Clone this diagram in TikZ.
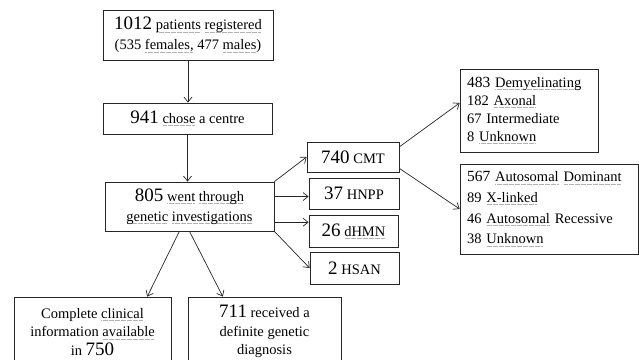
\documentclass[tikz,border=0pt]{standalone}
\usepackage{fontspec}
\setmainfont{Liberation Serif}
\usetikzlibrary{arrows.meta,calc}
\newcommand\sq[1]{\leavevmode\setbox0\hbox{#1}\rlap{\raisebox{-2.4pt}{\color{gray!60}\leaders\hbox to 1.2pt{\hss\rule{0.6pt}{0.5pt}\hss}\hskip\wd0\relax}}\box0\relax}
\newcommand\numb[1]{{\fontsize{19}{20}\selectfont #1}}
\begin{document}
\begin{tikzpicture}[x=1pt,y=-1pt,
  box/.style={draw=black!85,line width=0.8pt,inner sep=0pt,align=center,font=\fontsize{14.5}{20}\selectfont},
  lbox/.style={draw=black!85,line width=0.8pt,inner xsep=7pt,inner ysep=0pt,align=left},
  arr/.style={draw=black!85,line width=0.7pt,-{Straight Barb[length=5pt,width=8pt]}}]
\useasboundingbox (0,0) rectangle (639,359);
\clip (0,0) rectangle (639,359);
\fill[white] (0,0) rectangle (639,359);

\node[box,minimum width=170pt,minimum height=50pt] (b1) at (188,35)
  {\numb{1012} \sq{patients} \sq{registered}\\(535 \sq{females,} 477 \sq{males})};
\node[box,minimum width=169pt,minimum height=31pt] (b2) at (187.5,118.5)
  {\numb{941} \sq{chose} a centre};
\node[box,minimum width=169pt,minimum height=49pt] (b3) at (189.5,206.5)
  {\numb{805} \sq{went} \sq{through}\\\sq{genetic} \sq{investigations}};

\node[box,minimum width=92pt,minimum height=30pt] (cmt) at (353,157) {\numb{740} CMT};
\node[box,minimum width=90pt,minimum height=31pt] (hnpp) at (354,193.5) {\numb{37} HNPP};
\node[box,minimum width=89pt,minimum height=32pt] (dhmn) at (353.5,231) {\numb{26} \sq{dHMN}};
\node[box,minimum width=89pt,minimum height=32pt] (hsan) at (354.5,268) {\numb{2} HSAN};

\node[lbox,text width=124pt,minimum height=83pt,font=\fontsize{14.5}{18}\selectfont] (tr) at (529,110.5)
  {{\fontsize{15.5}{18}\selectfont 483} \sq{Demyelinating}\\182 \sq{Axonal}\\67 Intermediate\\8 \sq{Unknown}};
\node[lbox,text width=164pt,minimum height=90pt,font=\fontsize{14.5}{20.7}\selectfont] (br) at (549,209)
  {{\fontsize{15.5}{20.7}\selectfont 567} \sq{Autosomal} \sq{Dominant}\\89 \sq{X-linked}\\46 \sq{Autosomal} Recessive\\38 \sq{Unknown}};

\node[box,minimum width=157pt,minimum height=70pt,font=\fontsize{14.5}{18.5}\selectfont] (bl) at (92.5,332)
  {Complete \sq{clinical}\\information \sq{available}\\in \numb{750}};
\node[box,minimum width=153pt,minimum height=69pt,font=\fontsize{14.5}{18.5}\selectfont] (bm) at (264.5,331.5)
  {\numb{711} received a\\definite genetic\\diagnosis};

\draw[arr] (b1.south) -- (b1.south |- b2.north);
\draw[arr] (b2.south) -- (b2.south |- b3.north);

\draw[arr] (b3.north east) -- (cmt.west);
\coordinate (h1) at ($(b3.north east)!0.3!(b3.south east)$);
\draw[arr] (h1) -- (h1 -| hnpp.west);
\coordinate (h2) at ($(b3.north east)!0.816!(b3.south east)$);
\draw[arr] (h2) -- (h2 -| dhmn.west);
\draw[arr] (b3.south east) -- (hsan.west);

\coordinate (c1) at ($(cmt.north east)!0.17!(cmt.south east)$);
\draw[arr] (c1) -- ($(tr.north west)!0.41!(tr.south west)$);
\coordinate (c2) at ($(cmt.north east)!0.87!(cmt.south east)$);
\draw[arr] (c2) -- (br.west);

\draw[arr] ($(b3.south west)!0.44!(b3.south east)$) -- ($(bl.north west)!0.847!(bl.north east)$);
\draw[arr] (b3.south) -- ($(bm.north west)!0.229!(bm.north east)$);
\end{tikzpicture}
\end{document}
